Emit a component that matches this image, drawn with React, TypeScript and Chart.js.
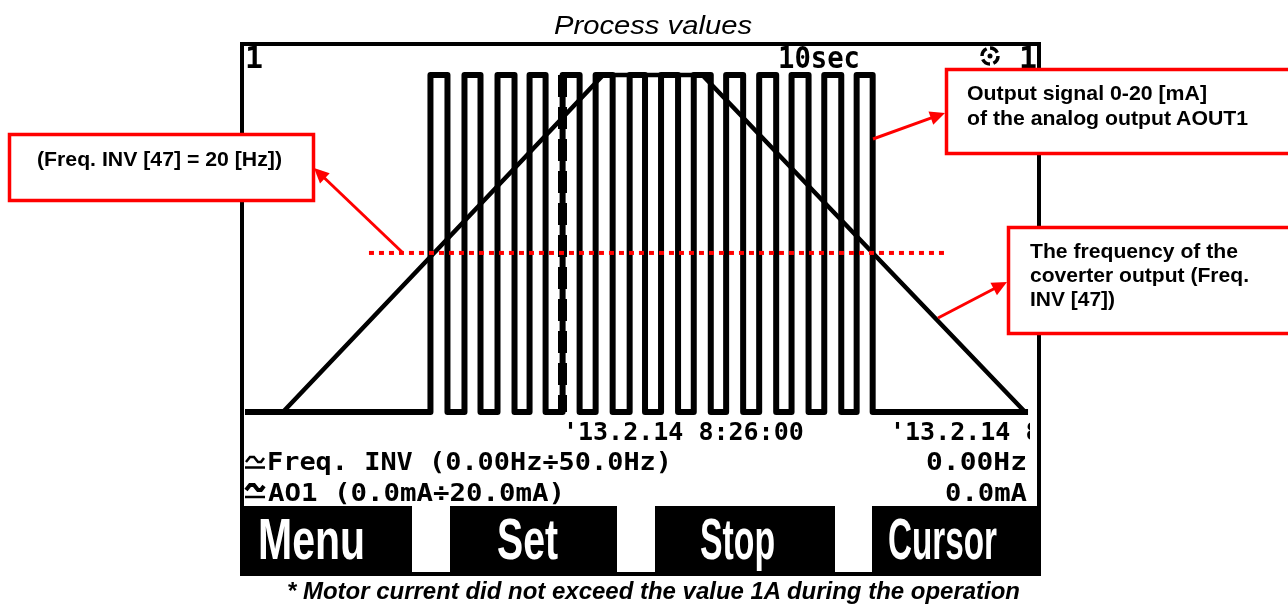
import React, { useEffect, useRef } from 'react';
import { Chart, registerables } from 'chart.js';

Chart.register(...registerables);

// ---- data (x = seconds after 8:25:50) ----
const X_MIN = 0.28;
const X_MAX = 24.28;
const TIME_TICKS = [10, 20];
const TIME_LABELS = ["'13.2.14 8:26:00", "'13.2.14 8:26:10"];

const FREQ_T = [0.28, 1.44, 11.23, 14.26, 24.13];
const FREQ_HZ = [0, 0, 50, 50, 0];

const AO1_T = [0.28, 5.95, 6.47, 6.99, 7.48, 8.0, 8.52, 8.98, 9.47, 9.99, 10.51, 11.0, 11.52, 12.04, 12.51, 13.0, 13.52, 14.0, 14.52, 14.99, 15.51, 16.0, 16.52, 16.99, 17.51, 17.99, 18.51, 18.98, 19.47, 24.22];
const AO1_MA = [0, 20, 0, 20, 0, 20, 0, 20, 0, 20, 0, 20, 0, 20, 0, 20, 0, 20, 0, 20, 0, 20, 0, 20, 0, 20, 0, 20, 0, 0];

const THRESH_T = [4.07, 21.7];
const THRESH_HZ = [23.6, 23.6];

const SANS = "'Liberation Sans', Arial, sans-serif";
const MONO = "'DejaVu Sans Mono', monospace";
const RED = '#ff0000';

const pts = (xs: number[], ys: number[]) => xs.map((x, i) => ({ x, y: ys[i] }));

type TP = {
  x: number; y: number; w?: number; size: number; family?: string; weight?: string;
  italic?: boolean; fill?: string; anchor?: string; children: React.ReactNode;
};
const T = ({ x, y, w, size, family, weight, italic, fill, anchor, children }: TP) => (
  <text
    x={x}
    y={y}
    fontSize={size}
    fontFamily={family || SANS}
    fontWeight={weight || 'normal'}
    fontStyle={italic ? 'italic' : 'normal'}
    fill={fill || '#000'}
    textAnchor={anchor || 'start'}
    textLength={w}
    lengthAdjust={w ? 'spacingAndGlyphs' : undefined}
    style={{ whiteSpace: 'pre' }}
  >
    {children}
  </text>
);

const Arrow = ({ x1, y1, x2, y2 }: { x1: number; y1: number; x2: number; y2: number }) => {
  const dx = x2 - x1;
  const dy = y2 - y1;
  const len = Math.hypot(dx, dy);
  const ux = dx / len;
  const uy = dy / len;
  const hl = 15;
  const hw = 7;
  const bx = x2 - ux * hl;
  const by = y2 - uy * hl;
  const p = `${x2},${y2} ${bx - uy * hw},${by + ux * hw} ${bx + uy * hw},${by - ux * hw}`;
  return (
    <g>
      <line x1={x1} y1={y1} x2={bx + ux * 2} y2={by + uy * 2} stroke={RED} strokeWidth={3} />
      <polygon points={p} fill={RED} />
    </g>
  );
};

export default function App() {
  const ref = useRef<HTMLCanvasElement>(null);

  useEffect(() => {
    const chart = new Chart(ref.current as HTMLCanvasElement, {
      type: 'line',
      data: {
        datasets: [
          {
            label: 'Freq. INV [47] = 20 Hz',
            data: pts(THRESH_T, THRESH_HZ),
            yAxisID: 'yHz',
            borderColor: RED,
            borderWidth: 4,
            borderDash: [5, 5],
            pointRadius: 0,
            clip: false,
            order: 0,
          },
          {
            label: 'Freq. INV',
            data: pts(FREQ_T, FREQ_HZ),
            yAxisID: 'yHz',
            borderColor: '#000',
            borderWidth: 4.5,
            pointRadius: 0,
            clip: false,
            order: 1,
          },
          {
            label: 'AO1',
            data: pts(AO1_T, AO1_MA),
            yAxisID: 'ymA',
            stepped: 'before',
            borderColor: '#000',
            borderWidth: 6,
            borderJoinStyle: 'round',
            pointRadius: 0,
            clip: false,
            order: 2,
          },
        ],
      },
      options: {
        animation: false,
        responsive: false,
        events: [],
        layout: { padding: { left: 1, right: 0, top: 29, bottom: 53 } },
        plugins: {
          legend: { display: false },
          tooltip: { enabled: false },
          title: { display: false },
        },
        scales: {
          x: {
            type: 'linear',
            position: 'bottom',
            min: X_MIN,
            max: X_MAX,
            afterBuildTicks: (s: any) => {
              s.ticks = TIME_TICKS.map((v) => ({ value: v }));
            },
            afterFit: (s: any) => {
              s.height = 40;
              s.paddingLeft = 0;
              s.paddingRight = 0;
            },
            ticks: {
              align: 'start',
              padding: 6,
              color: '#000',
              maxRotation: 0,
              autoSkip: false,
              font: { family: 'DejaVu Sans Mono', size: 25, weight: 'bold' },
              callback: (_v: any, i: number) => TIME_LABELS[i],
            },
            grid: {
              display: true,
              drawOnChartArea: true,
              drawTicks: false,
              lineWidth: 9,
              color: (c: any) => (c.index === 0 ? '#000' : 'rgba(0,0,0,0)'),
            },
            border: { display: false, dash: [22, 10] },
          },
          ymA: { type: 'linear', min: 0, max: 20, display: false },
          yHz: { type: 'linear', min: 0, max: 50, display: false },
        },
      } as any,
    });
    return () => chart.destroy();
  }, []);

  return (
    <div style={{ position: 'fixed', left: 0, top: 0, width: 1288, height: 605, background: '#fff', overflow: 'hidden' }}>
      <canvas
        ref={ref}
        width={786}
        height={459}
        style={{ position: 'absolute', left: 244, top: 46, width: 786, height: 459 }}
      />
      <svg width={1288} height={605} style={{ position: 'absolute', left: 0, top: 0, pointerEvents: 'none' }}>
        {/* title */}
        <T x={554} y={34} w={198} size={26} italic>Process values</T>

        {/* LCD frame */}
        <rect x={242} y={44} width={797} height={530} fill="none" stroke="#000" strokeWidth={4} />

        {/* LCD top row */}
        <T x={245} y={68} size={30} family={MONO} weight="bold">1</T>
        <T x={778} y={68} w={82} size={30} family={MONO} weight="bold">10sec</T>
        <circle cx={990} cy={56} r={8} fill="none" stroke="#000" strokeWidth={3.5} strokeDasharray="9 3.5" />
        <circle cx={990} cy={56} r={2.5} fill="#000" />
        <T x={1019} y={68} size={30} family={MONO} weight="bold">1</T>

        {/* legend rows */}
        <path d="M246 462 L250 457 L254 457 L258 462 L261 462 L264 458" fill="none" stroke="#000" strokeWidth={2.5} />
        <line x1={245} y1={467.5} x2={265} y2={467.5} stroke="#000" strokeWidth={2.5} />
        <T x={267} y={470} w={405} size={25} family={MONO} weight="bold">Freq. INV (0.00Hz÷50.0Hz)</T>
        <T x={1027} y={470} w={101} size={25} family={MONO} weight="bold" anchor="end">0.00Hz</T>

        <path d="M246 490 L250 485 L254 485 L258 490 L261 490 L264 486" fill="none" stroke="#000" strokeWidth={4} />
        <line x1={245} y1={497} x2={265} y2={497} stroke="#000" strokeWidth={2.5} />
        <T x={268} y={501} w={297} size={25} family={MONO} weight="bold">AO1 (0.0mA÷20.0mA)</T>
        <T x={1027} y={501} w={82} size={25} family={MONO} weight="bold" anchor="end">0.0mA</T>

        {/* function key bar */}
        <rect x={244} y={506} width={793} height={66} fill="#000" />
        <rect x={412} y={506} width={38} height={66} fill="#fff" />
        <rect x={617} y={506} width={38} height={66} fill="#fff" />
        <rect x={835} y={506} width={37} height={66} fill="#fff" />
        <T x={258} y={559} w={107} size={58} weight="bold" fill="#fff">Menu</T>
        <T x={497} y={559} w={61} size={58} weight="bold" fill="#fff">Set</T>
        <T x={700} y={559} w={75} size={58} weight="bold" fill="#fff">Stop</T>
        <T x={888} y={559} w={109} size={58} weight="bold" fill="#fff">Cursor</T>

        {/* caption */}
        <T x={287} y={599} w={733} size={24} weight="bold" italic>* Motor current did not exceed the value 1A during the operation</T>

        {/* annotation arrows */}
        <Arrow x1={402} y1={252} x2={314} y2={168} />
        <Arrow x1={873} y1={139} x2={945} y2={113} />
        <Arrow x1={938} y1={318} x2={1007} y2={282} />

        {/* annotation boxes */}
        <rect x={9.5} y={134.5} width={304} height={66} fill="#fff" stroke={RED} strokeWidth={3.5} />
        <T x={37} y={166} w={245} size={21} weight="bold">(Freq. INV [47] = 20 [Hz])</T>

        <rect x={946.5} y={69.5} width={400} height={84} fill="#fff" stroke={RED} strokeWidth={3.5} />
        <T x={967} y={100} w={240} size={21} weight="bold">Output signal 0-20 [mA]</T>
        <T x={967} y={125} w={281} size={21} weight="bold">of the analog output AOUT1</T>

        <rect x={1008.5} y={227.5} width={300} height={106} fill="#fff" stroke={RED} strokeWidth={3.5} />
        <T x={1030} y={258} w={208} size={21} weight="bold">The frequency of the</T>
        <T x={1030} y={282} w={219} size={21} weight="bold">coverter output (Freq.</T>
        <T x={1030} y={306} w={85} size={21} weight="bold">INV [47])</T>
      </svg>
    </div>
  );
}
